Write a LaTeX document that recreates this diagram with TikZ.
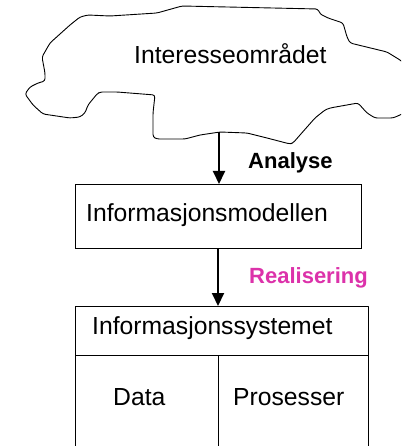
\documentclass[tikz,border=0pt]{standalone}
\usepackage{fontspec}
\setmainfont{Liberation Sans}
\usetikzlibrary{arrows.meta}
\definecolor{realcol}{RGB}{220,50,170}
\tikzset{
  thinline/.style={line width=0.9pt, black, line join=round},
  cloudline/.style={thinline, rounded corners=2.5pt},
  boxstyle/.style={draw, line width=0.9pt, minimum width=286pt, minimum height=64pt, inner sep=0pt},
  flow/.style={line width=2pt, -{Triangle[length=13pt,width=12pt]}},
  bigtext/.style={font=\fontsize{24.7}{28}\selectfont, inner sep=0pt, anchor=base west},
  boldlabel/.style={font=\fontsize{22}{26}\selectfont\bfseries, inner sep=0pt, anchor=base west}
}
\begin{document}
\begin{tikzpicture}[x=1pt,y=-1pt]
\useasboundingbox (0,0) rectangle (401,446);
\clip (0,0) rectangle (401,446);
% cloud
\draw[cloudline] (182,6) -- (318,9) -- (320,14) -- (328,18) -- (343,23) -- (347,37) -- (350,43) -- (387,52) -- (400,60) -- (410,68)
  -- (410,110) -- (400,115) -- (393,118) -- (375,118) -- (367,113) -- (358,103) -- (330,108) -- (325,110) -- (315,118)
  -- (300,135) -- (293,143) -- (290,144) -- (267,138) -- (247,133) -- (220,132) -- (200,135) -- (185,139) -- (157,139)
  -- (153,137) -- (153,113) -- (155,95) -- (117,92) -- (100,92) -- (97,94) -- (88,105) -- (85,113) -- (80,117) -- (70,118)
  -- (43,114) -- (33,105) -- (25,94) -- (30,87) -- (38,83) -- (45,81) -- (45,73) -- (42,57) -- (50,43) -- (70,25) -- (80,17)
  -- (88,15) -- (110,16) -- (157,13) -- cycle;
\node[bigtext] (cloudtext) at (134,64) {Interesseområdet};
\coordinate (cloudbottom) at (219,132);
% model box
\node[boxstyle, anchor=north west] (model) at (75,184) {};
\node[bigtext] (modeltext) at (86,221) {Informasjonsmodellen};
% system box (open at bottom)
\coordinate (sysNW) at (75,306);
\coordinate (sysNE) at (368,306);
\coordinate (sysSW) at (75,450);
\coordinate (sysSE) at (368,450);
\coordinate (divL) at (75,355);
\coordinate (divR) at (368,355);
\coordinate (midT) at (218,355);
\coordinate (midB) at (218,450);
\coordinate (sysTop) at (218,306);
\draw[thinline] (sysSW) -- (sysNW) -- (sysNE) -- (sysSE);
\draw[thinline] (divL) -- (divR);
\draw[thinline] (midT) -- (midB);
\node[bigtext] (systext) at (92,334) {Informasjonssystemet};
\node[bigtext] (datatext) at (113,405) {Data};
\node[bigtext] (proctext) at (233,405) {Prosesser};
% arrows
\draw[flow] (cloudbottom) -- (219,184);
\draw[flow] (model.south -| sysTop) -- (sysTop);
\node[boldlabel] (analyse) at (248,168) {Analyse};
\node[boldlabel, text=realcol] (real) at (249,283) {Realisering};
\end{tikzpicture}
\end{document}
